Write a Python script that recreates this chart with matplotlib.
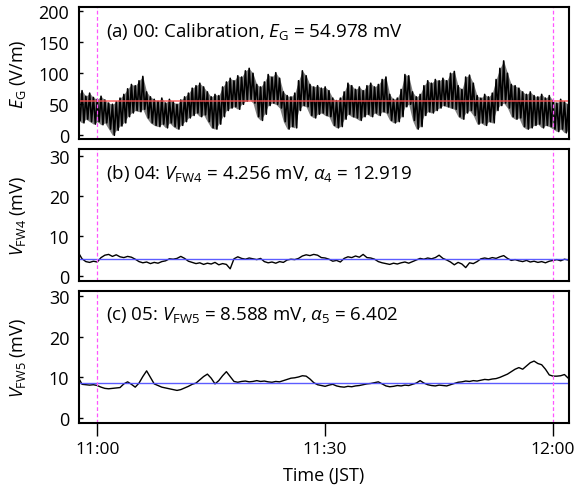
import numpy as np
import matplotlib
matplotlib.use('Agg')
import matplotlib.pyplot as plt

plt.rcParams['font.family'] = ['Open Sans', 'DejaVu Sans']
plt.rcParams['mathtext.fontset'] = 'custom'
plt.rcParams['mathtext.rm'] = 'Open Sans'
plt.rcParams['mathtext.it'] = 'Open Sans:italic'
plt.rcParams['font.size'] = 13

# время в минутах от 11:00, шаг 0.5 мин
t_start = -2.5
t_step = 0.5

# (a) E_G, верхняя и нижняя огибающая шума (V/m)
eg_hi = [66, 72, 63, 68, 61, 58, 63, 57, 52, 50,
         54, 60, 66, 75, 82, 80, 88, 95, 70, 62,
         58, 55, 60, 52, 58, 54, 50, 57, 62, 68,
         76, 80, 84, 78, 70, 62, 66, 64, 78, 86,
         92, 88, 96, 94, 104, 108, 100, 82, 78, 86,
         98, 94, 101, 92, 70, 64, 62, 68, 88, 104,
         96, 82, 78, 80, 76, 78, 72, 60, 56, 60,
         70, 84, 80, 74, 78, 72, 80, 84, 78, 82,
         90, 94, 66, 58, 60, 74, 98, 96, 70, 62,
         66, 80, 88, 84, 90, 88, 92, 88, 100, 103,
         80, 74, 94, 97, 84, 64, 60, 66, 62, 68,
         90, 108, 120, 100, 82, 80, 76, 70, 66, 70,
         64, 62, 66, 60, 64, 56, 52, 58, 54, 50]
eg_lo = [24, 20, 26, 22, 18, 22, 17, 20, 10, 0,
         8, 15, 20, 30, 36, 40, 38, 42, 28, 20,
         16, 14, 18, 12, 20, 14, 10, 16, 22, 28,
         32, 36, 30, 33, 22, 12, 10, 18, 30, 40,
         44, 46, 42, 50, 55, 58, 52, 30, 24, 34,
         48, 52, 50, 44, 22, 10, 14, 12, 40, 48,
         46, 32, 28, 34, 36, 32, 30, 16, 12, 14,
         26, 34, 30, 28, 24, 30, 34, 30, 36, 32,
         38, 36, 24, 20, 22, 30, 46, 50, 24, 10,
         14, 32, 38, 36, 40, 44, 48, 46, 44, 42,
         30, 26, 36, 40, 32, 18, 20, 16, 22, 20,
         40, 48, 52, 44, 30, 26, 28, 14, 10, 12,
         16, 18, 12, 16, 14, 10, 6, 10, 4, 8]

# (b) V_FW4 (mV)
v4 = [5.9, 4.3, 3.6, 3.4, 3.7, 3.5, 4.6, 5.2, 5.4, 4.9,
      5.3, 4.8, 4.6, 4.9, 4.7, 4.2, 3.6, 3.3, 3.5, 3.1,
      3.4, 3.2, 3.6, 3.8, 4.3, 4.2, 4.4, 4.9, 4.4, 3.7,
      3.4, 3.1, 3.3, 2.9, 3.2, 3.0, 3.4, 2.8, 3.1, 2.9,
      1.8, 4.3, 4.8, 4.4, 4.2, 4.5, 4.3, 4.1, 4.4, 3.6,
      3.3, 3.5, 3.2, 3.6, 3.4, 4.0, 4.2, 4.1, 4.4, 5.0,
      5.3, 5.1, 5.4, 5.2, 4.6, 4.5, 4.2, 3.7, 3.9, 3.5,
      4.4, 4.8, 4.6, 5.0, 4.7, 5.4, 4.6, 4.5, 4.2, 3.6,
      3.3, 3.1, 2.9, 3.2, 3.0, 3.3, 3.5, 3.2, 3.6, 4.0,
      4.4, 4.2, 4.5, 4.3, 4.6, 5.2, 4.4, 4.0, 3.5, 2.8,
      3.4, 3.0, 2.1, 3.3, 3.1, 3.6, 4.3, 4.5, 4.3, 4.6,
      4.4, 4.8, 5.1, 4.4, 3.9, 4.1, 3.8, 3.6, 3.9, 3.5,
      3.7, 3.4, 3.6, 3.3, 3.7, 3.9, 4.1, 3.8, 4.2, 4.0]

# (c) V_FW5 (mV)
v5 = [10.0, 8.3, 8.2, 8.1, 8.2, 8.0, 7.6, 7.3, 7.2, 7.3,
      7.4, 7.5, 8.4, 8.9, 8.3, 7.6, 8.6, 10.2, 11.6, 10.0,
      8.4, 8.0, 7.6, 7.4, 7.2, 7.0, 6.8, 7.0, 7.4, 7.8,
      8.3, 8.6, 9.4, 10.2, 10.8, 9.8, 8.4, 9.2, 10.4, 11.4,
      10.2, 9.0, 8.8, 9.0, 9.1, 8.9, 9.0, 9.2, 9.0, 9.1,
      8.9, 8.8, 9.0, 8.9, 9.2, 9.5, 9.8, 9.9, 10.1, 10.4,
      10.3, 9.6, 8.7, 8.2, 8.0, 7.8, 8.1, 8.3, 7.9, 7.7,
      7.6, 7.8, 7.7, 7.9, 8.0, 8.2, 8.4, 8.5, 8.7, 8.9,
      8.4, 7.9, 7.7, 7.8, 8.0, 7.9, 8.1, 8.0, 8.3, 8.6,
      9.2, 8.6, 8.2, 8.0, 7.9, 8.1, 8.0, 7.9, 8.2, 8.5,
      8.8, 8.9, 9.1, 9.0, 9.2, 9.1, 9.3, 9.5, 9.4, 9.6,
      9.7, 10.0, 10.4, 10.8, 11.4, 12.0, 12.4, 12.0, 12.8, 13.6,
      14.0, 13.4, 13.1, 12.0, 10.6, 10.3, 10.3, 10.4, 10.7, 9.8]

eg_mean = 54.978
v4_mean = 4.256
v5_mean = 8.588
marks = [0, 60]          # пунктир 11:00 и 12:00
time_ticks = [0, 30, 60]
time_labels = ['11:00', '11:30', '12:00']

t = t_start + t_step * np.arange(len(v4))
t_eg = np.column_stack([t, t + t_step / 2]).ravel()
y_eg = np.column_stack([eg_hi, eg_lo]).ravel()

fig = plt.figure(figsize=(5.75, 4.89), dpi=100)
l, w, h = 0.1374, 0.8522, 0.27
ax1 = fig.add_axes([l, 0.7137, w, h])
ax2 = fig.add_axes([l, 0.4233, w, h])
ax3 = fig.add_axes([l, 0.1329, w, h])

'''(a) шумовая полоса: серая огибающая + чёрный зигзаг'''
ax1.fill_between(t, eg_lo, eg_hi, color='0.5', lw=0)
ax1.plot(t_eg, y_eg, color='black', lw=1.2)
ax1.axhline(eg_mean, color='#ff5050', lw=1.2, alpha=0.8)
ax1.set_ylim(-6, 207)
ax1.set_yticks([0, 50, 100, 150, 200])
ax1.set_ylabel(r'$E_\mathrm{G}$ (V/m)')
ax1.text(0.055, 0.9, r'(a) 00: Calibration, $E_\mathrm{G}$ = 54.978 mV',
         transform=ax1.transAxes, va='top', fontsize=13.5)

ax2.plot(t, v4, color='black', lw=1.0)
ax2.axhline(v4_mean, color='#4a4aff', lw=1.0, alpha=0.9)
ax2.set_ylim(-1.25, 31.75)
ax2.set_yticks([0, 10, 20, 30])
ax2.set_ylabel(r'$V_\mathrm{FW4}$ (mV)')
ax2.text(0.055, 0.9, r'(b) 04: $V_\mathrm{FW4}$ = 4.256 mV, $\alpha_4$ = 12.919',
         transform=ax2.transAxes, va='top', fontsize=13.5)

ax3.plot(t, v5, color='black', lw=1.0)
ax3.axhline(v5_mean, color='#4a4aff', lw=1.0, alpha=0.9)
ax3.set_ylim(-1.2, 31.2)
ax3.set_yticks([0, 10, 20, 30])
ax3.set_ylabel(r'$V_\mathrm{FW5}$ (mV)')
ax3.text(0.055, 0.9, r'(c) 05: $V_\mathrm{FW5}$ = 8.588 mV, $\alpha_5$ = 6.402',
         transform=ax3.transAxes, va='top', fontsize=13.5)

for ax in (ax1, ax2, ax3):
    ax.set_xlim(-2.4, 62.1)
    for m in marks:
        ax.axvline(m, color='#ff55ff', lw=0.9, ls=(0, (3, 2)))
    for s in ax.spines.values():
        s.set_linewidth(1.5)
    ax.tick_params(axis='y', direction='in', length=3, width=1, labelsize=13, pad=7)
    ax.yaxis.set_label_coords(-0.105, 0.5)
    ax.set_xticks([])

ax3.set_xticks(time_ticks)
ax3.set_xticklabels(time_labels)
ax3.tick_params(axis='x', direction='out', length=9, width=1, labelsize=12.5, pad=4)
ax3.set_xlabel('Time (JST)', labelpad=6)

fig.savefig('out.png', dpi=100)
